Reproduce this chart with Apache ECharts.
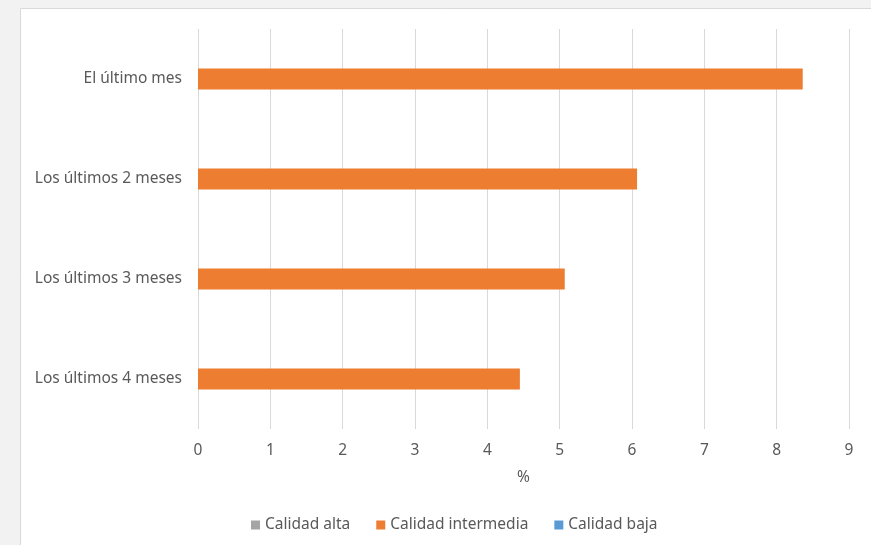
<!DOCTYPE html>
<html>
<head>
<meta charset="utf-8">
<script src="https://cdn.jsdelivr.net/npm/echarts@6/dist/echarts.min.js"></script>
<style>html,body{margin:0;padding:0;background:#f2f2f2;}#c{width:871px;height:545px;}</style>
</head>
<body>
<div id="c"></div>
<script>
const categories = ['El último mes', 'Los últimos 2 meses', 'Los últimos 3 meses', 'Los últimos 4 meses'];
const seriesNames = ['Calidad alta', 'Calidad intermedia', 'Calidad baja'];
const altaValues = [0, 0, 0, 0];
const intermediaValues = [8.36, 6.07, 5.07, 4.45];
const bajaValues = [0, 0, 0, 0];
const xTicks = [0, 1, 2, 3, 4, 5, 6, 7, 8, 9];
const colors = ['#a5a5a5', '#ed7d31', '#5b9bd5'];

const font = 'Noto Sans';
const fs = 15.5;
const chart = echarts.init(document.getElementById('c'), null, {renderer: 'canvas'});
const dataSets = [altaValues, intermediaValues, bajaValues];
chart.setOption({
  backgroundColor: '#f2f2f2',
  animation: false,
  textStyle: {fontFamily: font},
  graphic: [{
    type: 'rect', z: -10, silent: true,
    shape: {x: 20.5, y: 8.5, width: 870, height: 560},
    style: {fill: '#ffffff', stroke: '#d9d9d9', lineWidth: 1}
  }],
  grid: {left: 198, right: 22, top: 29, bottom: 116},
  legend: {
    data: seriesNames, bottom: 7, left: 246,
    itemWidth: 9, itemHeight: 9, itemGap: 26,
    textStyle: {color: '#595959', fontSize: fs, fontFamily: font},
    icon: 'rect'
  },
  xAxis: {
    type: 'value', min: xTicks[0], max: xTicks[xTicks.length - 1], interval: 1,
    name: '%', nameLocation: 'middle', nameGap: 41,
    nameTextStyle: {color: '#595959', fontSize: fs, fontFamily: font},
    axisLine: {show: false}, axisTick: {show: false},
    axisLabel: {color: '#595959', fontSize: fs, margin: 14, fontFamily: font},
    splitLine: {show: true, lineStyle: {color: '#d9d9d9', width: 1}}
  },
  yAxis: {
    type: 'category', data: categories, inverse: true,
    axisLine: {show: false}, axisTick: {show: false},
    axisLabel: {color: '#595959', fontSize: fs, margin: 16, fontFamily: font, padding: [3, 0, 0, 0]}
  },
  series: seriesNames.map((n, i) => ({
    name: n, type: 'bar', data: dataSets[i],
    barWidth: 21, barGap: '0%',
    itemStyle: {color: colors[i]}
  }))
});
</script>
</body>
</html>
